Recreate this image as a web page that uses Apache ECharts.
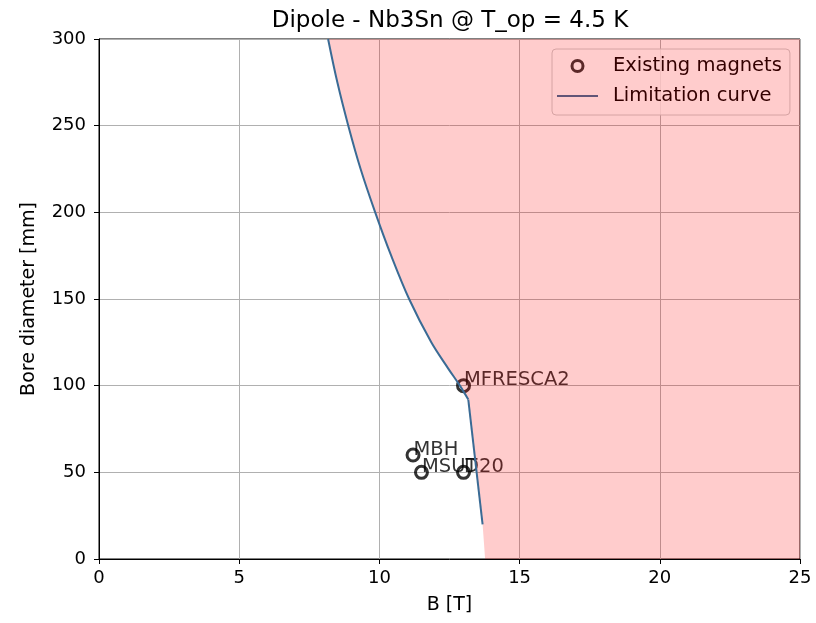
<!DOCTYPE html>
<html><head><meta charset="utf-8">
<script src="https://cdn.jsdelivr.net/npm/echarts@6/dist/echarts.min.js"></script>
<style>html,body{margin:0;padding:0;background:#fff}#c{width:816px;height:623px}</style>
</head><body><div id="c"></div>
<script>
// Limitation curve (B [T], bore diameter [mm]) - upper curved part
var curveB = [8.17, 8.50, 8.89, 9.33, 9.85, 10.42, 11.06, 11.85, 12.45, 12.87, 13.17];
var curveD = [300, 275, 250, 225, 200, 175, 150, 125, 110, 100, 92];
// lower straight part
var curveLowB = [13.17, 13.68];
var curveLowD = [92, 20];
// Shaded (infeasible) region boundary continuation
var fillExtraB = [13.77, 25, 25];
var fillExtraD = [0, 0, 300];
// Existing magnets
var magnetNames = ['MFRESCA2', 'MBH', 'MSUT', 'D20'];
var magnetB = [13.0, 11.2, 11.5, 13.0];
var magnetD = [100, 60, 50, 50];
// Axis ticks
var xTicks = [0, 5, 10, 15, 20, 25];
var yTicks = [0, 50, 100, 150, 200, 250, 300];

var FONT = 'DejaVu Sans';
var LINE = '#3a6b95';
var chart = echarts.init(document.getElementById('c'), null, {renderer: 'canvas'});

var curveData = curveB.map(function (b, i) { return [b, curveD[i]]; });
var curveLowData = curveLowB.map(function (b, i) { return [b, curveLowD[i]]; });
var fillB = curveB.concat(curveLowB.slice(1), fillExtraB);
var fillD = curveD.concat(curveLowD.slice(1), fillExtraD);
var magnetData = magnetNames.map(function (n, i) { return {name: n, value: [magnetB[i], magnetD[i]]}; });

var option = {
  animation: false,
  backgroundColor: '#fff',
  textStyle: {fontFamily: FONT},
  graphic: [
    {type: 'text', x: 450, y: 21, style: {text: 'Dipole - Nb3Sn @ T_op = 4.5 K', fontFamily: FONT, fontSize: 23, fill: '#000', align: 'center', verticalAlign: 'middle'}}
  ],
  grid: {left: 99, right: 16, top: 39, bottom: 64, show: true, borderColor: '#000', borderWidth: 1, backgroundColor: 'transparent'},
  legend: {
    orient: 'vertical', left: 552, top: 49,
    padding: [7, 8, 9, 5],
    itemGap: 10, itemWidth: 41, itemHeight: 11,
    backgroundColor: 'rgba(255,255,255,0.8)', borderColor: '#cccccc', borderWidth: 1, borderRadius: 4,
    textStyle: {fontFamily: FONT, fontSize: 19.5, color: '#000', padding: [0, 0, 0, 10]},
    data: [
      {name: 'Existing magnets', icon: 'circle', itemStyle: {color: 'rgba(0,0,0,0)', borderColor: '#000', borderWidth: 3}},
      {name: 'Limitation curve', icon: 'path://M0,0 L41,0 L41,2 L0,2 Z', itemStyle: {color: LINE}}
    ]
  },
  xAxis: {
    type: 'value', min: xTicks[0], max: xTicks[xTicks.length - 1], interval: 5,
    name: 'B [T]', nameLocation: 'middle', nameGap: 37,
    nameTextStyle: {fontFamily: FONT, fontSize: 19, color: '#000'},
    axisLine: {show: true, lineStyle: {color: '#000', width: 1}},
    axisTick: {show: true, length: 5, lineStyle: {color: '#000'}},
    axisLabel: {fontFamily: FONT, fontSize: 18, color: '#000', margin: 10},
    splitLine: {show: true, lineStyle: {color: '#b0b0b0', width: 1}}
  },
  yAxis: {
    type: 'value', min: yTicks[0], max: yTicks[yTicks.length - 1], interval: 50,
    name: 'Bore diameter [mm]', nameLocation: 'middle', nameGap: 60,
    nameTextStyle: {fontFamily: FONT, fontSize: 19, color: '#000'},
    axisLine: {show: true, lineStyle: {color: '#000', width: 1}},
    axisTick: {show: true, length: 5, lineStyle: {color: '#000'}},
    axisLabel: {fontFamily: FONT, fontSize: 18, color: '#000', margin: 13},
    splitLine: {show: true, lineStyle: {color: '#b0b0b0', width: 1}}
  },
  series: [
    {
      name: 'Existing magnets', type: 'scatter', z: 3,
      symbol: 'circle', symbolSize: 12,
      itemStyle: {color: 'rgba(0,0,0,0)', borderColor: '#000', borderWidth: 3},
      label: {show: true, formatter: '{b}', position: [8, 12], align: 'left', verticalAlign: 'bottom', fontFamily: FONT, fontSize: 19.5, color: '#000'},
      data: magnetData
    },
    {
      name: 'Limitation curve', type: 'line', z: 25,
      symbol: 'none', smooth: 0.35,
      lineStyle: {color: LINE, width: 2},
      itemStyle: {color: LINE},
      data: curveData
    },
    {
      name: 'Limitation curve', type: 'line', z: 25,
      symbol: 'none', smooth: false,
      lineStyle: {color: LINE, width: 2},
      itemStyle: {color: LINE},
      data: curveLowData
    },
    {
      name: 'region', type: 'custom', z: 20, silent: true,
      coordinateSystem: 'cartesian2d',
      data: [[0, 0]],
      renderItem: function (params, api) {
        var pts = fillB.map(function (b, i) { return api.coord([b, fillD[i]]); });
        return {type: 'polygon', shape: {points: pts, smooth: 0}, style: {fill: 'rgba(255,0,0,0.2)', stroke: 'none'}};
      }
    }
  ]
};
chart.setOption(option);
</script></body></html>
